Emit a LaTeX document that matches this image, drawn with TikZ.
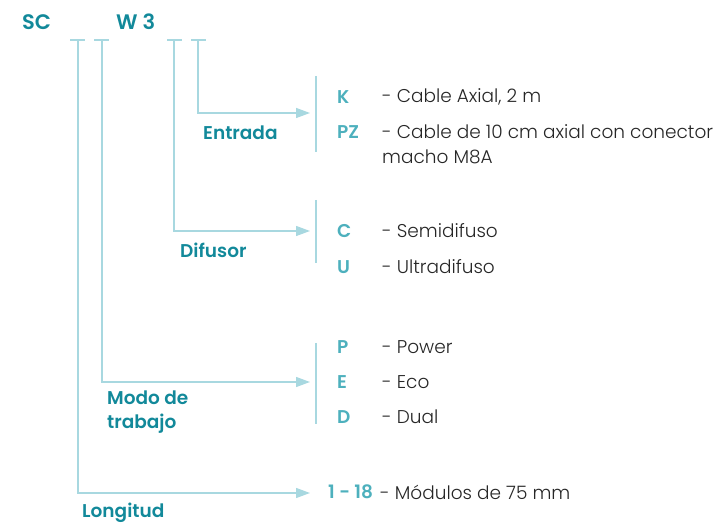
\documentclass[tikz,border=0pt]{standalone}
\usepackage{fontspec}
\setmainfont{Poppins}[UprightFont=* Light, BoldFont=* SemiBold]
\usetikzlibrary{arrows.meta}
\definecolor{dteal}{HTML}{12899A}
\definecolor{lteal}{HTML}{4DB0BD}
\definecolor{lline}{HTML}{A8D8E0}
\definecolor{txt}{HTML}{262626}
\tikzset{
  lbl/.style={font=\fontsize{18.5}{22}\selectfont\bfseries, text=dteal, anchor=west, inner sep=0pt},
  code/.style={font=\fontsize{18.5}{22}\selectfont\bfseries, text=lteal, anchor=west, inner sep=0pt},
  desc/.style={font=\fontsize{18.5}{22}\selectfont, text=txt, anchor=west, inner sep=0pt},
  conn/.style={draw=lline, line width=1.3pt},
  arr/.style={conn, -{Triangle[length=14pt,width=10pt]}},
  sep/.style={draw=lline, line width=1.6pt}
}
\begin{document}
\begin{tikzpicture}[x=1pt,y=-1pt]
\useasboundingbox (0,0) rectangle (718,526);
% header
\node[lbl, font=\fontsize{21}{24}\selectfont\bfseries] (sc) at (22,22) {SC};
\node[lbl, font=\fontsize{21}{24}\selectfont\bfseries] (w3) at (116,22) {W 3};
% blanks
\foreach \a/\b/\n in {70/85/b1, 94/109/b2, 167/182/b3, 191/206/b4}{
  \draw[conn] (\a,40) -- (\b,40);
}
\coordinate (v1) at (78,40);
\coordinate (v2) at (102,40);
\coordinate (v3) at (174,40);
\coordinate (v4) at (198,40);
\coordinate (t1) at (310,493);
\coordinate (t2) at (310,382);
\coordinate (t3) at (310,231);
\coordinate (t4) at (310,113);
\draw[arr] (v4) |- (t4);
\draw[arr] (v3) |- (t3);
\draw[arr] (v2) |- (t2);
\draw[arr] (v1) |- (t1);
% separators
\coordinate (s1a) at (316,76); \coordinate (s1b) at (316,152);
\coordinate (s2a) at (316,200); \coordinate (s2b) at (316,263);
\coordinate (s3a) at (316,343); \coordinate (s3b) at (316,424);
\draw[sep] (s1a) -- (s1b);
\draw[sep] (s2a) -- (s2b);
\draw[sep] (s3a) -- (s3b);
% labels
\node[lbl] (entrada) at (203,133) {Entrada};
\node[lbl] (difusor) at (180,250) {Difusor};
\node[lbl] (modo) at (107,398) {Modo de};
\node[lbl] (trab) at (107,424) {trabajo};
\node[lbl] (long) at (82,513) {Longitud};
% codes
\node[code] (k) at (337,97) {K};
\node[desc] (kd) at (382,97) {- Cable Axial, 2 m};
\node[code] (pz) at (337,132) {PZ};
\node[desc] (pzd) at (382,132) {- Cable de 10 cm axial con conector};
\node[desc] (pzd2) at (382,157) {macho M8A};
\node[code] (c) at (337,231) {C};
\node[desc] (cd) at (382,231) {- Semidifuso};
\node[code] (u) at (337,267) {U};
\node[desc] (ud) at (382,267) {- Ultradifuso};
\node[code] (p) at (337,347) {P};
\node[desc] (pd) at (382,347) {- Power};
\node[code] (e) at (337,382) {E};
\node[desc] (ed) at (382,382) {- Eco};
\node[code] (d) at (337,417) {D};
\node[desc] (dd) at (382,417) {- Dual};
\node[code] (n) at (328,492) {1 - 18};
\node[desc] (nd) at (380,492) {- Módulos de 75 mm};
\end{tikzpicture}
\end{document}
